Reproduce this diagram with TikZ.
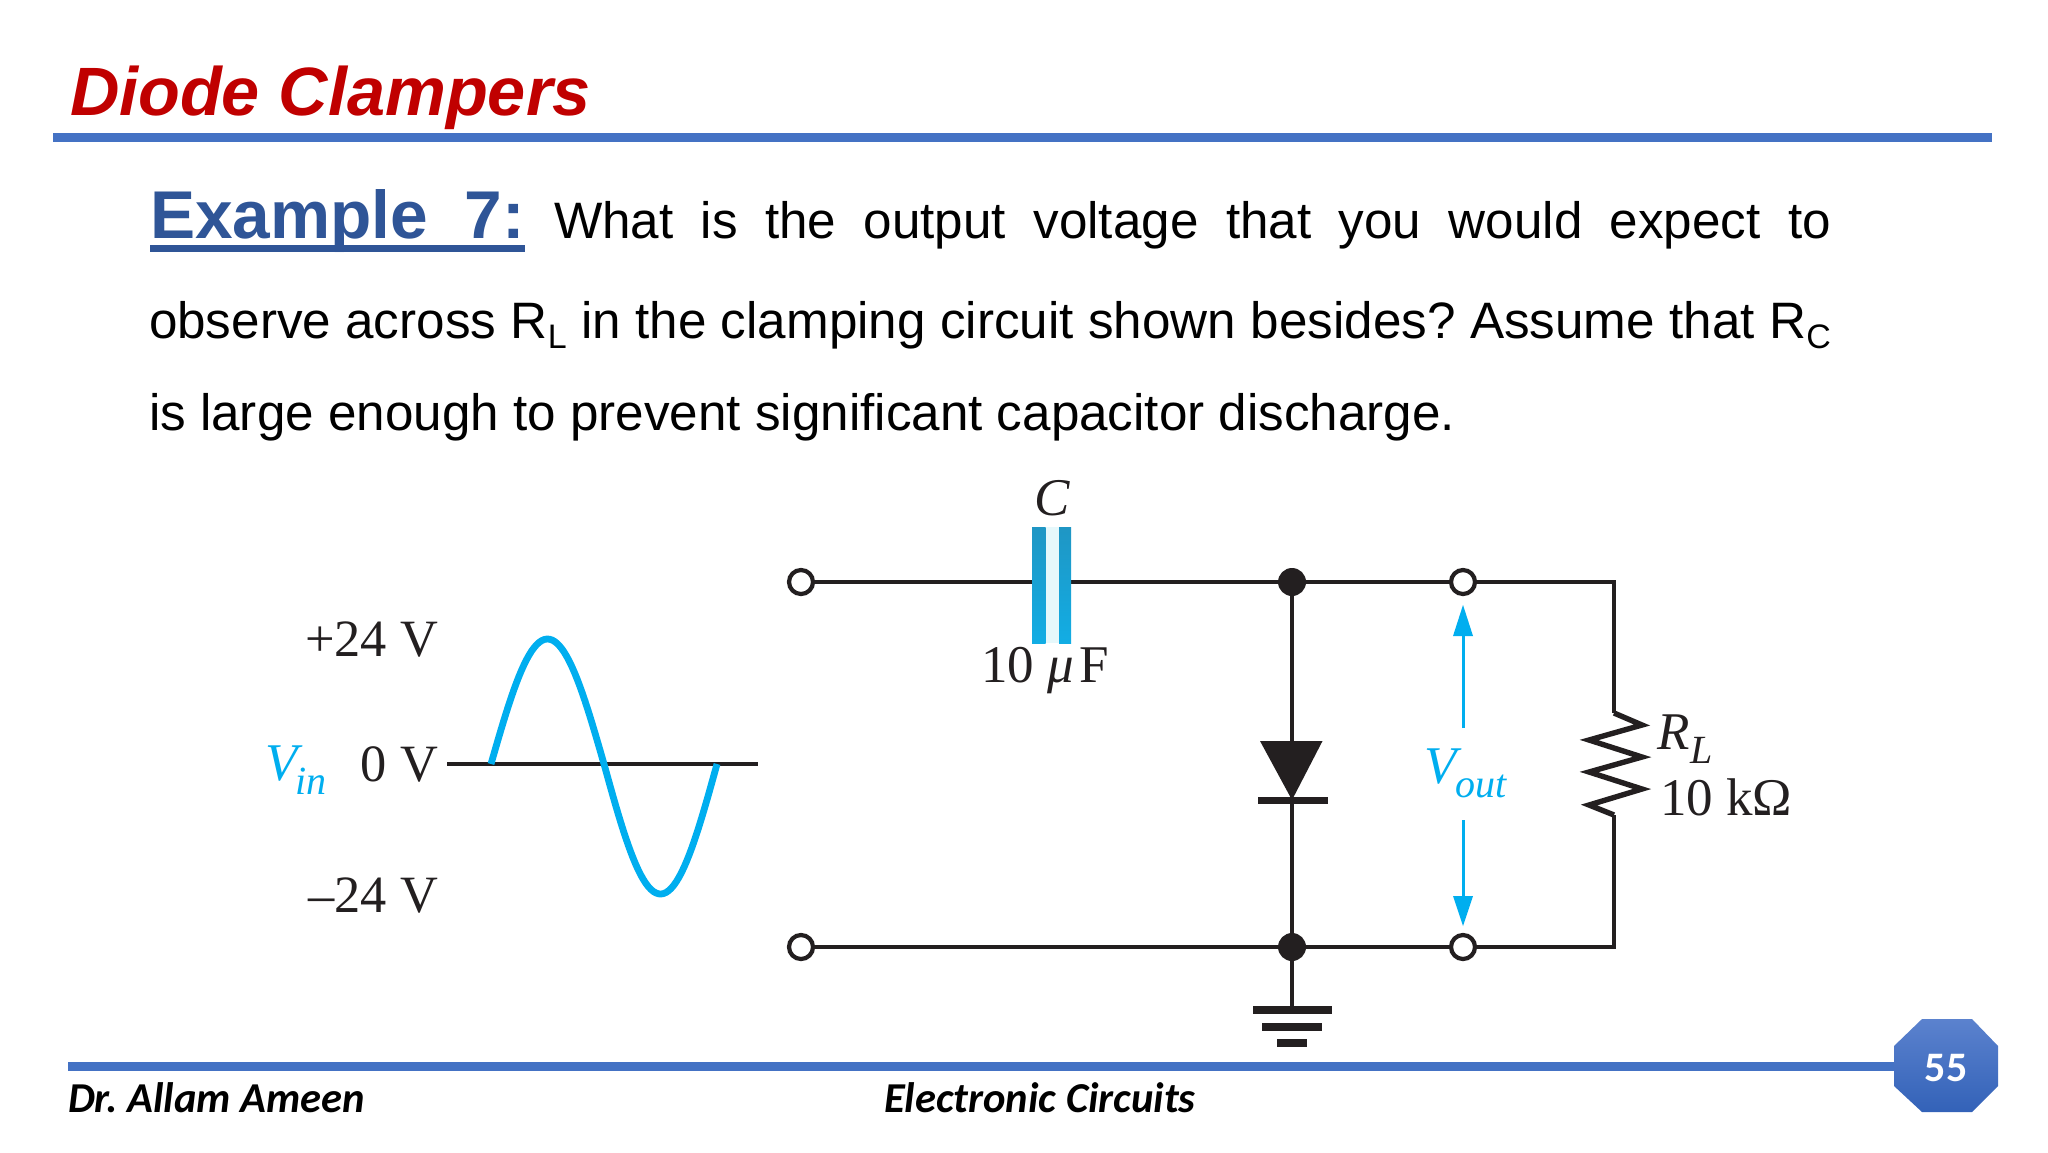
\documentclass[tikz,border=0pt]{standalone}
\usepackage{fontspec}
\setmainfont{Liberation Serif}
\newfontfamily\arialf{Liberation Sans}
\newfontfamily\calib{Carlito}
\frenchspacing
\definecolor{inkc}{HTML}{231F20}
\definecolor{cyanc}{HTML}{00AEEF}
\definecolor{barc}{HTML}{4472C4}
\definecolor{titlec}{HTML}{C00000}
\definecolor{exc}{HTML}{2F5597}
\definecolor{plateA}{HTML}{1F96C4}
\definecolor{plateB}{HTML}{12ADE4}
\definecolor{octA}{HTML}{5B82CE}
\definecolor{octB}{HTML}{3362B8}
\definecolor{gapc}{HTML}{E6F8FB}
\newcommand{\subsc}[1]{\raisebox{-0.27em}{\fontsize{20pt}{20pt}\selectfont\textit{#1}}}
\newcommand{\subar}[1]{\raisebox{-0.2em}{\fontsize{17pt}{18pt}\selectfont #1}}
\tikzset{
  lbl/.style={anchor=base west,inner sep=0pt,outer sep=0pt},
  lblr/.style={anchor=base east,inner sep=0pt,outer sep=0pt},
  lbc/.style={anchor=base,inner sep=0pt,outer sep=0pt},
  circ/.style={lbl,font=\fontsize{26.5pt}{28pt}\selectfont,text=inkc},
  circr/.style={lblr,font=\fontsize{26.2pt}{28pt}\selectfont,text=inkc},
  body/.style={lbl,font=\arialf\fontsize{25.6pt}{28pt}\selectfont,text=black},
  foot/.style={lbl,font=\calib\bfseries\itshape\fontsize{21.3pt}{24pt}\selectfont,text=black},
  wire/.style={draw=inkc,line width=1.6pt},
  term/.style={circle,draw=inkc,line width=2.1pt,fill=white,minimum size=12pt,inner sep=0pt},
  junc/.style={circle,fill=inkc,minimum size=14pt,inner sep=0pt},
  vlt/.style={cyanc,line width=1.5pt},
  headc/.style={fill=cyanc},
}
\begin{document}
\begin{tikzpicture}[x=0.5pt,y=-0.5pt]
\useasboundingbox (0,0) rectangle (2048,1152);
\fill[white] (0,0) rectangle (2048,1152);
% title and top rule
\node[lbl,font=\arialf\bfseries\itshape\fontsize{34.2pt}{38pt}\selectfont,text=titlec] (title) at (70,115) {Diode Clampers};
\fill[barc] (53,133) rectangle (1992,142);
% question text
\node[lbl,font=\arialf\bfseries\fontsize{33.8pt}{38pt}\selectfont,text=exc] (ex) at (150,238) {\makebox[187.5pt][s]{Example 7:}};
\fill[exc] (150,245) rectangle (525,252);
\node[body] (l1) at (554,238) {\makebox[638.5pt][s]{What is the output voltage that you would expect to}};
\node[body] (l2) at (149,338) {\makebox[841pt][s]{observe across R\subar{L} in the clamping circuit shown besides? Assume that R\subar{C}}};
\node[body] (l3) at (149,430) {is large enough to prevent significant capacitor discharge.};
% input waveform
\draw[wire] (447,764) -- (758,764);
\draw[cyanc,line width=3.4pt,line join=round] plot[domain=0:360,samples=90] ({491+0.6278*\x},{764-127.5*sin(\x)+2.5*abs(sin(\x))});
\node[circr] (vp) at (438,656) {+24 V};
\node[circr] (v0) at (438,781) {0 V};
\node[circr] (vm) at (438,912) {–24 V};
\node[lbl,font=\fontsize{26.5pt}{28pt}\selectfont,text=cyanc] (vin) at (265,780) {\textit{V}\kern-3.5pt\subsc{in}};
% circuit nodes
\node[term] (t1) at (801,582) {};
\node[term] (t2) at (801,947) {};
\node[term] (t3) at (1463,582) {};
\node[term] (t4) at (1463,947) {};
\node[junc] (jt) at (1292,582) {};
\node[junc] (jb) at (1292,947) {};
\node[inner sep=0pt,minimum width=19.5pt,minimum height=58pt,fill=gapc] (cap) at (1051.5,585) {};
\node[inner sep=0pt,minimum width=35pt,minimum height=31.5pt] (dio) at (1292,772.5) {};
\node[inner sep=0pt,minimum width=31pt,minimum height=51pt] (res) at (1614,764) {};
\coordinate (cr1) at (1614,582);
\coordinate (cr2) at (1614,947);
\coordinate (gnd) at (1292,1006);
% wires
\draw[wire] (t1) -- (t1 -| cap.west);
\draw[wire] (t1 -| cap.east) -- (jt);
\draw[wire] (jt) -- (t3);
\draw[wire] (t3) -- (cr1) -- (res.north);
\draw[wire] (res.south) -- (cr2) -- (t4);
\draw[wire] (t4) -- (jb);
\draw[wire] (jb) -- (t2);
\draw[wire] (jt) -- (dio.north);
\draw[wire] (dio.south) -- (jb);
\draw[wire] (jb) -- (gnd);
% capacitor plates
\shade[top color=plateA,bottom color=plateB] (1032,527) rectangle (1045.5,643);
\shade[top color=plateA,bottom color=plateB] (1059,527) rectangle (1071,643);
% diode
\fill[inkc] (1260,741) -- (1322.5,741) -- (1292,800) -- cycle;
\fill[inkc] (1258,797) rectangle (1328,804);
% resistor
\draw[inkc,line width=2.7pt,miter limit=4] (1614,713) -- (1642,725) -- (1589,740) -- (1642,757) -- (1589,772) -- (1642,789) -- (1589,805) -- (1614,815);
% ground
\fill[inkc] (1253,1006) rectangle (1332,1014);
\fill[inkc] (1262,1023) rectangle (1322,1031);
\fill[inkc] (1277,1039) rectangle (1307,1047);
% voltage arrows
\node[lbl,font=\fontsize{26.5pt}{28pt}\selectfont,text=cyanc] (vout) at (1424,783) {\textit{V}\kern-3pt\subsc{out}};
\coordinate (au) at (1463,728);
\coordinate (ad) at (1463,820);
\draw[vlt] (au) -- (1463,630);
\draw[vlt] (ad) -- (1463,900);
\fill[headc] (1463,605) -- (1473,636) -- (1453,636) -- cycle;
\fill[headc] (1463,926) -- (1473,896) -- (1453,896) -- cycle;
% labels
\node[lbc,font=\fontsize{26.5pt}{28pt}\selectfont,text=inkc] (cl) at (1052,515) {\textit{C}};
\node[circ] (cv) at (981,682) {10\kern6.5pt\textit{μ}\kern3pt F};
\node[circ] (rl) at (1657,749) {\textit{R}\kern0.5pt\subsc{L}};
\node[circ] (rv) at (1660,815) {10 kΩ};
% footer
\draw[barc,line width=4.5pt] (68,1066) -- (1894,1066);
\shade[top color=octA,bottom color=octB] (1922,1019) -- (1972,1019) -- (1998,1046) -- (1998,1086) -- (1972,1112) -- (1922,1112) -- (1894,1086) -- (1894,1046) -- cycle;
\node[inner sep=0pt,font=\calib\bfseries\fontsize{21pt}{22pt}\selectfont,text=white] (pg) at (1946,1068) {55};
\node[foot] (f1) at (68,1112) {Dr. Allam Ameen};
\node[foot] (f2) at (884,1112) {Electronic Circuits};
\end{tikzpicture}
\end{document}
